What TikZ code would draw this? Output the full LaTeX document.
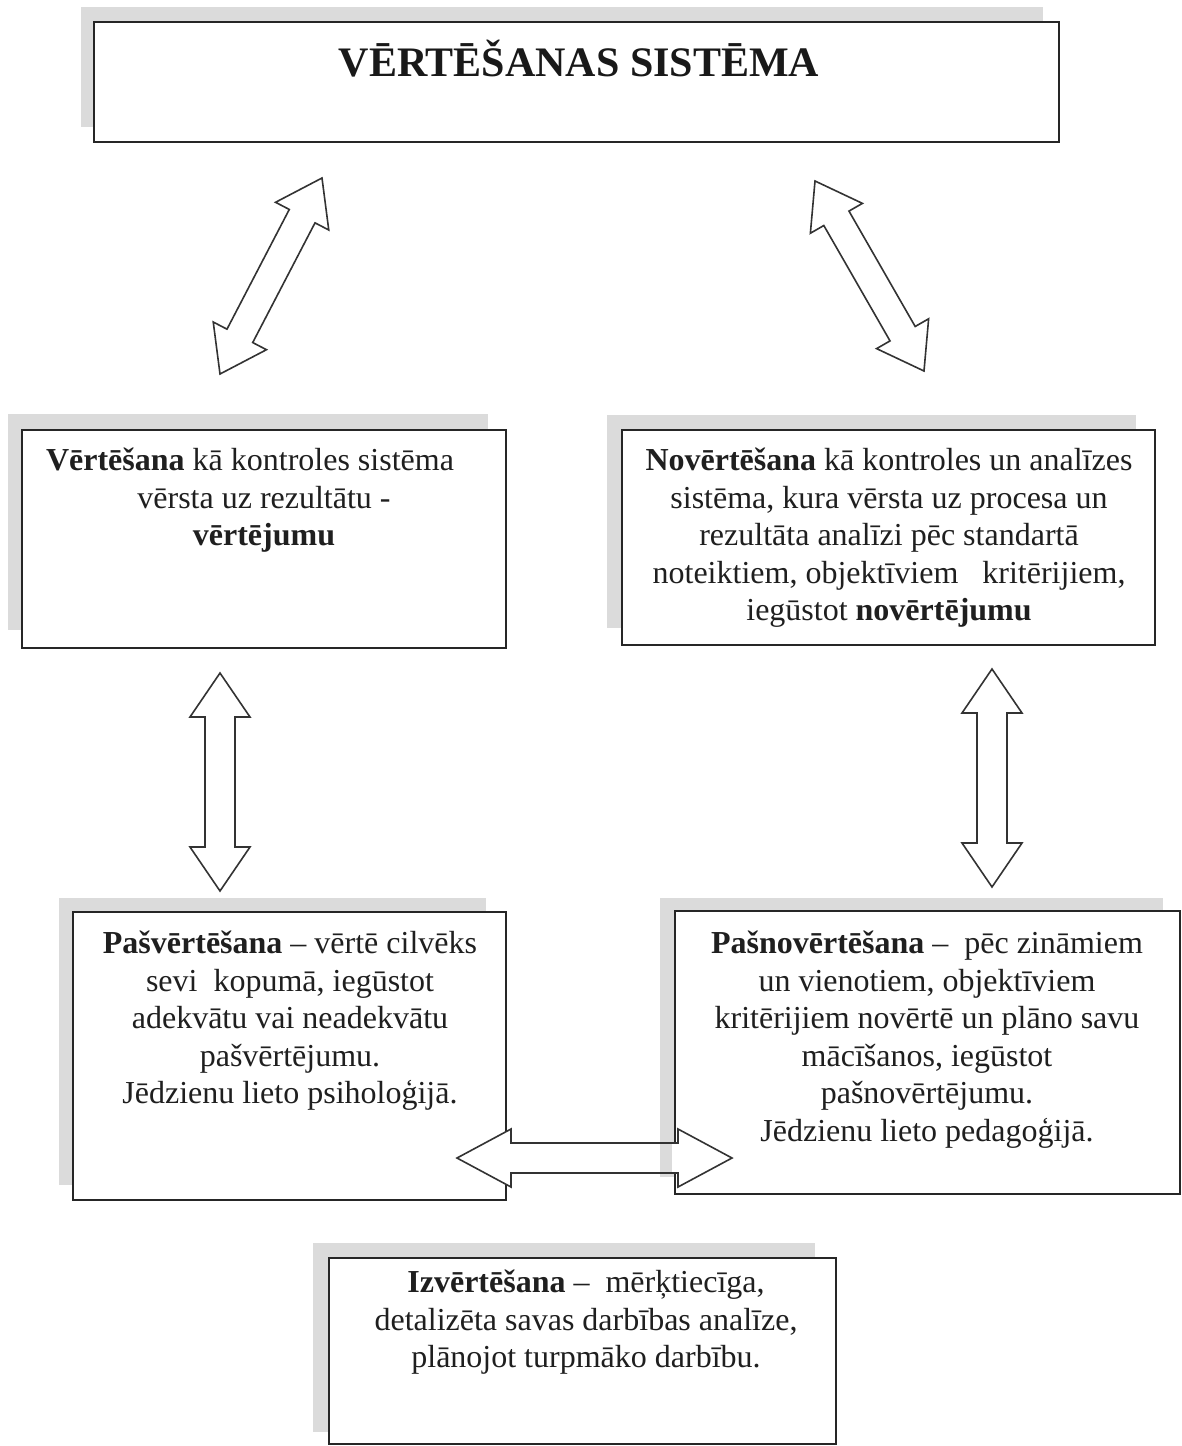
\documentclass[tikz,border=0pt]{standalone}
\usepackage{fontspec}
\setmainfont{Liberation Serif}
\usetikzlibrary{calc}

\newcommand{\blockarrow}[6][]{%
  \path ($(#2)!#6!(#3)$) coordinate (#2-h) ($(#3)!#6!(#2)$) coordinate (#3-h);
  \draw[barrow,#1] (#2) -- ($(#2-h)!#5!90:(#3)$) -- ($(#2-h)!#4!90:(#3)$)
    -- ($(#3-h)!#4!-90:(#2)$) -- ($(#3-h)!#5!-90:(#2)$) -- (#3)
    -- ($(#3-h)!#5!90:(#2)$) -- ($(#3-h)!#4!90:(#2)$)
    -- ($(#2-h)!#4!-90:(#3)$) -- ($(#2-h)!#5!-90:(#3)$) -- cycle;
}

\tikzset{
  box/.style={draw=black!85, line width=1.8pt, fill=white, rectangle, inner sep=0pt},
  shade/.style={fill=gray!28, draw=none},
  txt/.style={align=center, inner sep=0pt, anchor=north, text=black!88,
    font=\fontsize{32}{37.5}\selectfont},
  titletxt/.style={inner sep=0pt, anchor=base, text=black!90,
    font=\fontsize{42}{50}\selectfont\bfseries},
  barrow/.style={draw=black!80, line width=1.6pt, fill=white, line join=miter},
}

\begin{document}
\begin{tikzpicture}[x=1pt,y=-1pt]
\useasboundingbox (0,0) rectangle (1182,1446);
\fill[white] (0,0) rectangle (1182,1446);

% shadows
\fill[shade] (81,7) rectangle (1043,127);
\fill[shade] (8,414) rectangle (488,630);
\fill[shade] (607,415) rectangle (1136,628);
\fill[shade] (59,898) rectangle (486,1185);
\fill[shade] (660,898) rectangle (1163,1177);
\fill[shade] (313,1243) rectangle (815,1432);

% boxes
\node[box, minimum width=965pt, minimum height=120pt] (title) at (576.5,82) {};
\node[box, minimum width=484pt, minimum height=218pt] (verte) at (264,539) {};
\node[box, minimum width=533pt, minimum height=215pt] (nov) at (888.5,537.5) {};
\node[box, minimum width=433pt, minimum height=288pt] (pasv) at (289.5,1056) {};
\node[box, minimum width=505pt, minimum height=283pt] (pasn) at (927.5,1052.5) {};
\node[box, minimum width=507pt, minimum height=186pt] (izv) at (582.5,1351) {};

% texts
\node[titletxt] (titlet) at (579,76) {VĒRTĒŠANAS SISTĒMA};
\node[txt] (vertet) at (264,448) {\textbf{Vērtēšana} kā kontroles sistēma\hspace*{28pt}\\
  vērsta uz rezultātu -\\ \textbf{vērtējumu}};
\node[txt] (novt) at (889,448) {\textbf{Novērtēšana} kā kontroles un analīzes\\
  sistēma, kura vērsta uz procesa un\\ rezultāta analīzi pēc standartā\\
  noteiktiem, objektīviem\ \ \ kritērijiem,\\ iegūstot \textbf{novērtējumu}};
\node[txt] (pasvt) at (290,931) {\textbf{Pašvērtēšana} – vērtē cilvēks\\
  sevi\ \ kopumā, iegūstot\\ adekvātu vai neadekvātu\\ pašvērtējumu.\\
  Jēdzienu lieto psiholoģijā.};
\node[txt] (pasnt) at (927,931) {\textbf{Pašnovērtēšana} –\ \ pēc zināmiem\\
  un vienotiem, objektīviem\\ kritērijiem novērtē un plāno savu\\
  mācīšanos, iegūstot\\ pašnovērtējumu.\\ Jēdzienu lieto pedagoģijā.};
\node[txt] (izvt) at (586,1270) {\textbf{Izvērtēšana} –\ \ mērķtiecīga,\\
  detalizēta savas darbības analīze,\\ plānojot turpmāko darbību.};

% arrow end points
\coordinate (a1s) at (220,374);
\coordinate (a1e) at (322,178);
\coordinate (a2s) at (815,181);
\coordinate (a2e) at (924,371);
\coordinate (a3s) at (220,673);
\coordinate (a3e) at (220,891);
\coordinate (a4s) at (992,669);
\coordinate (a4e) at (992,887);
\coordinate (a5s) at (457,1158);
\coordinate (a5e) at (732,1158);

\blockarrow{a1s}{a1e}{14.5pt}{30pt}{43pt}
\blockarrow{a2s}{a2e}{14.5pt}{30pt}{43pt}
\blockarrow{a3s}{a3e}{15pt}{30pt}{44pt}
\blockarrow{a4s}{a4e}{15pt}{30pt}{44pt}
\blockarrow[draw=none]{a5s}{a5e}{15pt}{29pt}{54pt}
\fill[shade] (660,1128) rectangle (672,1177);
\blockarrow[fill=none]{a5s}{a5e}{15pt}{29pt}{54pt}
\end{tikzpicture}
\end{document}
